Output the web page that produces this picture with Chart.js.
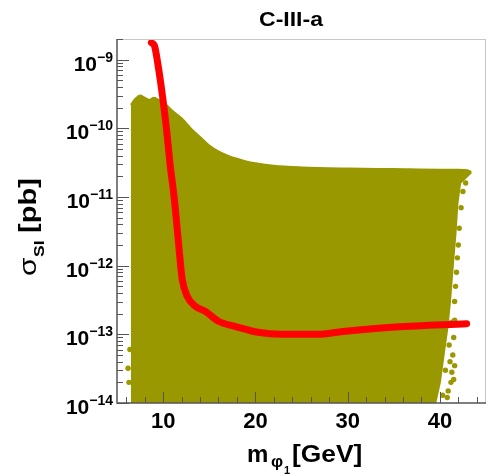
<!DOCTYPE html>
<html><head><meta charset="utf-8">
<script src="https://cdn.jsdelivr.net/npm/chart.js@4"></script>
<style>html,body{margin:0;padding:0;background:#fff;overflow:hidden}</style>
</head><body>
<canvas id="c" width="490" height="474" style="display:block;width:490px;height:474px"></canvas>
<script>
// ---- text ----
const chartTitle = 'C-III-a';
const xTickValues = [10, 20, 30, 40];
const xTickLabels = ['10', '20', '30', '40'];
const yTickValues = [1e-14, 1e-13, 1e-12, 1e-11, 1e-10, 1e-9];
const yTickBase = '10';
const yTickExponents = ['\u221214', '\u221213', '\u221212', '\u221211', '\u221210', '\u22129'];

// ---- scan region (dense scatter of points) : upper envelope ----
const scanUpperX = [6.5, 6.7, 7.0, 7.5, 8.0, 8.5, 9.0, 9.5, 10.0, 10.5, 11.0, 12.0, 13.0, 14.0, 15.0, 16.0, 17.0, 18.0, 19.0, 20.0, 22.0, 25.0, 30.0, 35.0, 40.0, 42.0, 43.0, 43.4];
const scanUpperY = [2.2e-10, 2.4e-10, 2.7e-10, 3.0e-10, 2.8e-10, 2.6e-10, 2.8e-10, 2.6e-10, 2.4e-10, 2.1e-10, 1.8e-10, 1.4e-10, 1.0e-10, 7.5e-11, 5.6e-11, 4.6e-11, 4.0e-11, 3.6e-11, 3.3e-11, 3.1e-11, 2.85e-11, 2.7e-11, 2.6e-11, 2.55e-11, 2.5e-11, 2.5e-11, 2.45e-11, 2.3e-11];
// lower envelope (right-hand edge of the dense region)
const scanLowerX = [6.5, 39.5, 40.0, 40.4, 40.8, 41.1, 41.4, 41.7, 41.9, 42.2, 43.4];
const scanLowerY = [1e-14, 1e-14, 2e-14, 5e-14, 1.2e-13, 3e-13, 1e-12, 3e-12, 8e-12, 1.6e-11, 2.3e-11];
// isolated scan points outside the dense region
const scanEdgeX = [42.6, 42.8, 42.5, 42.3, 42.1, 42.0, 41.9, 41.8, 41.6, 41.3, 41.5, 41.0, 41.4, 40.6, 41.2, 40.9, 41.6, 41.5, 40.8, 41.1, 41.3, 40.3, 41.6, 41.7, 6.3, 6.4, 6.2];
const scanEdgeY = [2.3e-11, 1.6e-11, 1.2e-11, 7e-12, 3.5e-12, 2e-12, 1.3e-12, 8e-13, 3e-13, 1.5e-13, 9e-14, 7e-14, 5e-14, 3e-14, 2e-14, 1.5e-14, 3.5e-14, 2.2e-14, 1.2e-14, 4e-14, 2.8e-14, 1.3e-14, 1.6e-13, 5e-13, 2e-14, 6e-14, 3.2e-14];

// ---- exclusion limit (red line) ----
const limitX = [8.73, 9.06, 9.41, 9.94, 10.37, 10.73, 11.19, 11.54, 11.9, 12.08, 12.6, 13.5, 14.6, 16.0, 17.8, 20.3, 22.75, 25.6, 26.7, 29.5, 35.2, 42.9];
const limitY = [1.77e-9, 1.6e-9, 9e-10, 2.9e-10, 9.7e-11, 3.2e-11, 1.0e-11, 3.3e-12, 1.0e-12, 6.2e-13, 3.6e-13, 2.55e-13, 2.15e-13, 1.55e-13, 1.31e-13, 1.07e-13, 1.0e-13, 1.0e-13, 1.0e-13, 1.1e-13, 1.28e-13, 1.43e-13];

const OLIVE = 'rgb(153,152,0)';
const FONT = '"Liberation Sans", Arial, Helvetica, sans-serif';
const pts = (xs, ys) => xs.map((x, i) => ({x, y: ys[i]}));

const decor = {
  id: 'decor',
  afterDraw(chart) {
    const {ctx, chartArea: a, scales: {x, y}} = chart;
    ctx.save();
    // frame
    ctx.strokeStyle = '#c8c8c8'; ctx.lineWidth = 1;
    ctx.beginPath();
    ctx.moveTo(a.left, a.top + 0.5); ctx.lineTo(a.right, a.top + 0.5);
    ctx.moveTo(a.right - 0.5, a.top); ctx.lineTo(a.right - 0.5, a.bottom);
    ctx.stroke();
    ctx.strokeStyle = '#555'; ctx.lineWidth = 1.5;
    ctx.beginPath();
    ctx.moveTo(a.left, a.top); ctx.lineTo(a.left, a.bottom); ctx.lineTo(a.right, a.bottom);
    ctx.stroke();
    // ticks
    ctx.lineWidth = 1; ctx.strokeStyle = '#555';
    ctx.beginPath();
    for (let v = 6; v <= 44; v += 2) {
      const px = Math.round(x.getPixelForValue(v)) + 0.5;
      const len = v % 10 === 0 ? 11 : 6;
      ctx.moveTo(px, a.bottom); ctx.lineTo(px, a.bottom - len);
    }
    for (let e = -14; e <= -9; e++) {
      for (let k = 1; k <= 9; k++) {
        const v = k * Math.pow(10, e);
        if (v > y.max) continue;
        const py = Math.round(y.getPixelForValue(v)) + 0.5;
        const len = k === 1 ? 12 : 6;
        ctx.moveTo(a.left, py); ctx.lineTo(a.left + len, py);
      }
    }
    ctx.stroke();
    // x tick labels
    ctx.fillStyle = '#000';
    ctx.font = 'bold 22px ' + FONT;
    ctx.textAlign = 'center'; ctx.textBaseline = 'alphabetic';
    xTickValues.forEach((v, i) => ctx.fillText(xTickLabels[i], x.getPixelForValue(v), 428));
    // y tick labels
    ctx.textAlign = 'left';
    yTickValues.forEach((v, i) => {
      const py = y.getPixelForValue(v);
      ctx.font = 'bold 14px ' + FONT;
      const ew = ctx.measureText(yTickExponents[i]).width;
      const ex = 113 - ew;
      ctx.fillText(yTickExponents[i], ex, py + 2);
      ctx.font = 'bold 21px ' + FONT;
      const bw = ctx.measureText(yTickBase).width;
      ctx.fillText(yTickBase, ex - bw, py + 11);
    });
    // title
    ctx.font = 'bold 20px ' + FONT;
    ctx.textAlign = 'center';
    ctx.save(); ctx.translate(291, 26); ctx.scale(1.15, 1); ctx.fillText(chartTitle, 0, 0); ctx.restore();
    // x axis title
    ctx.textAlign = 'left';
    ctx.font = 'bold 24px ' + FONT;
    ctx.fillText('m', 247, 462);
    ctx.font = 'bold 17px ' + FONT;
    ctx.fillText('\u03c6', 271, 467);
    ctx.font = 'bold 11px ' + FONT;
    ctx.fillText('1', 284, 474);
    ctx.font = 'bold 24px ' + FONT;
    ctx.save(); ctx.translate(292, 462); ctx.scale(1.1, 1); ctx.fillText('[GeV]', 0, 0); ctx.restore();
    // y axis title
    ctx.save();
    ctx.translate(36, 276); ctx.rotate(-Math.PI / 2);
    ctx.font = '24px ' + FONT;
    ctx.save(); ctx.scale(1.25, 1); ctx.fillText('\u03c3', 0, 0); ctx.restore();
    ctx.font = 'bold 14px ' + FONT;
    ctx.save(); ctx.translate(19, 8); ctx.scale(1.25, 1); ctx.fillText('SI', 0, 0); ctx.restore();
    ctx.font = 'bold 24px ' + FONT;
    const w = ctx.measureText('[pb]').width;
    ctx.save(); ctx.translate(43, 0); ctx.scale(55 / w, 1); ctx.fillText('[pb]', 0, 0); ctx.restore();
    ctx.restore();
    ctx.restore();
  }
};

new Chart(document.getElementById('c'), {
  type: 'line',
  data: {
    datasets: [
      {
        label: 'limit', data: pts(limitX, limitY), order: 0,
        borderColor: '#ff0000', borderWidth: 7, pointRadius: 0, fill: false,
        cubicInterpolationMode: 'monotone', borderCapStyle: 'round', borderJoinStyle: 'round'
      },
      {
        label: 'scan edge', type: 'scatter', data: pts(scanEdgeX, scanEdgeY), order: 1,
        backgroundColor: OLIVE, borderWidth: 0, pointRadius: 2.7, showLine: false
      },
      {
        label: 'scan', data: pts(scanUpperX, scanUpperY), order: 2,
        borderColor: OLIVE, borderWidth: 2, backgroundColor: OLIVE, pointRadius: 0, fill: '+1',
        cubicInterpolationMode: 'monotone'
      },
      {
        label: 'scan low', data: pts(scanLowerX, scanLowerY), order: 3,
        borderColor: OLIVE, borderWidth: 2, pointRadius: 0, fill: false, tension: 0
      }
    ]
  },
  options: {
    responsive: false, animation: false, devicePixelRatio: 1,
    layout: {padding: {left: 117, top: 39, right: 0, bottom: 71}},
    plugins: {legend: {display: false}, title: {display: false}, tooltip: {enabled: false}},
    scales: {
      x: {type: 'linear', min: 5, max: 45, display: false},
      y: {type: 'logarithmic', min: 1e-14, max: 2e-9, display: false}
    }
  },
  plugins: [decor]
});
</script>
</body></html>
